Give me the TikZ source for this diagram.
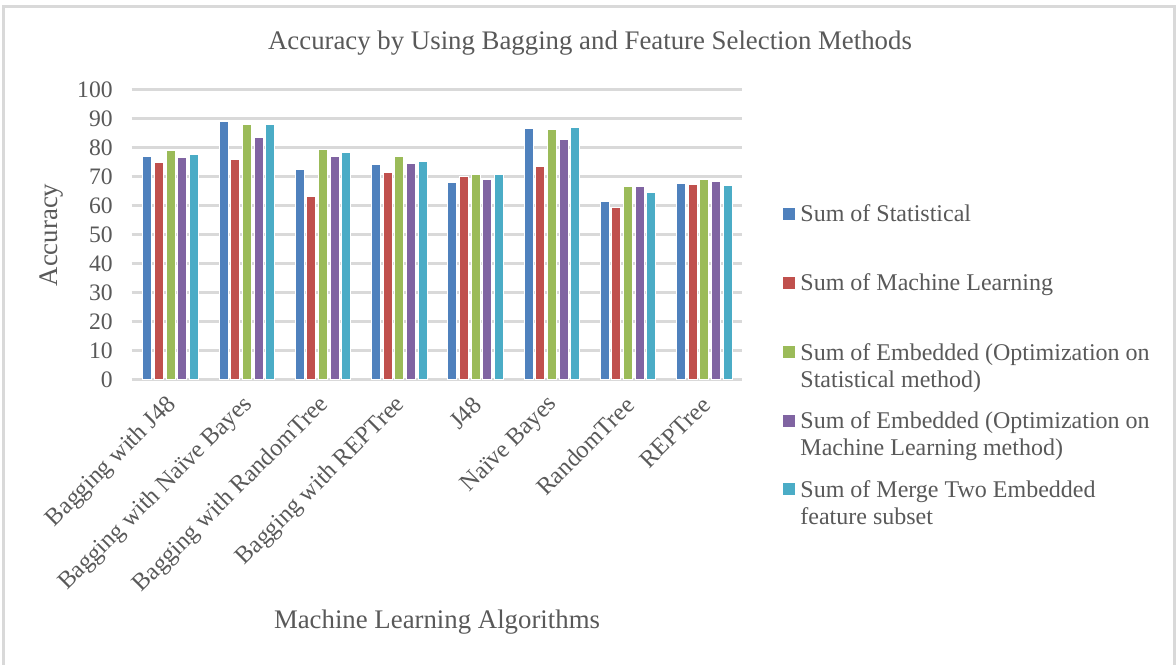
\documentclass[tikz,border=0pt]{standalone}
\usepackage{fontspec}
\setmainfont{Liberation Serif}
\definecolor{txt}{HTML}{595959}
\definecolor{grid}{HTML}{D9D9D9}
\definecolor{frame}{HTML}{D9D9D9}
\definecolor{sA}{HTML}{4F81BD}
\definecolor{sB}{HTML}{C0504D}
\definecolor{sC}{HTML}{9BBB59}
\definecolor{sD}{HTML}{8064A2}
\definecolor{sE}{HTML}{4BACC6}
\tikzset{
  gridline/.style={draw=grid, line width=1.5},
  tick/.style={text=txt, anchor=east, font=\fontsize{11.8}{13}\selectfont, inner sep=0pt},
  catlabel/.style={text=txt, anchor=east, rotate=45, font=\fontsize{12.2}{14}\selectfont, inner sep=0pt},
  legtext/.style={text=txt, anchor=base west, font=\fontsize{12}{14}\selectfont, inner sep=0pt},
  legkey/.style={minimum size=6pt, inner sep=0pt},
  axtitle/.style={text=txt, font=\fontsize{13.4}{15}\selectfont},
  bar/.style={draw=white, line width=0.4pt},
}
\begin{document}
\begin{tikzpicture}[x=0.5pt, y=-0.5pt]
\useasboundingbox (0,0) rectangle (1176,664);
\fill[white] (0,0) rectangle (1176,664);
\draw[frame, line width=1.5] (3.5,670) -- (3.5,6) -- (1174.5,6) -- (1174.5,670);

% title and axis titles
\node[axtitle] (title) at (590,43) {Accuracy by Using Bagging and Feature Selection Methods};
\node[axtitle, rotate=90] (ytitle) at (52,235) {Accuracy};
\node[axtitle] (xtitle) at (437,622) {Machine Learning Algorithms};

% horizontal grid and value labels
\foreach \v in {0,10,...,100} {
  \draw[gridline] (131.7,{379.3-2.9*\v}) -- (741.7,{379.3-2.9*\v});
  \node[tick] (t\v) at (113,{379.3-2.9*\v}) {\v};
}

% bars: one row of five values per algorithm
\foreach \a/\b/\c/\d/\e [count=\g from 0] in {
  77.0/74.9/79.0/76.4/77.7,
  89.1/75.9/88.0/83.4/87.8,
  72.5/63.1/79.4/77.0/78.4,
  74.1/71.5/77.0/74.4/75.3,
  67.9/69.8/70.8/69.1/70.8,
  86.6/73.4/86.3/82.8/86.7,
  61.3/59.2/66.4/66.4/64.6,
  67.5/67.2/69.1/68.4/66.9} {
  \foreach \val/\col [count=\i from 0] in {\a/sA,\b/sB,\c/sC,\d/sD,\e/sE} {
    \path[bar, fill=\col] ({142.7+76.25*\g+11.67*\i},379.3) rectangle ++(9,{-2.9*\val});
  }
}

% category labels
\foreach \lab [count=\g from 0] in {Bagging with J48, Bagging with Naïve Bayes, Bagging with RandomTree, Bagging with REPTree, J48, Naïve Bayes, RandomTree, REPTree} {
  \node[catlabel] (c\g) at ({169.8+76.25*\g+3},401) {\lab};
}

% legend
\node[legkey, fill=sA] (k1) at (789,214) {};
\node[legtext] (l1) at (800,221.7) {Sum of Statistical};
\node[legkey, fill=sB] (k2) at (789,283) {};
\node[legtext] (l2) at (800,290.7) {Sum of Machine Learning};
\node[legkey, fill=sC] (k3) at (789,352) {};
\node[legtext] (l3a) at (800,360) {Sum of Embedded (Optimization on};
\node[legtext] (l3b) at (800,387) {Statistical method)};
\node[legkey, fill=sD] (k4) at (789,421) {};
\node[legtext] (l4a) at (800,428.5) {Sum of Embedded (Optimization on};
\node[legtext] (l4b) at (800,455.5) {Machine Learning method)};
\node[legkey, fill=sE] (k5) at (789,489) {};
\node[legtext] (l5a) at (800,497) {Sum of Merge Two Embedded};
\node[legtext] (l5b) at (800,524) {feature subset};
\end{tikzpicture}
\end{document}
